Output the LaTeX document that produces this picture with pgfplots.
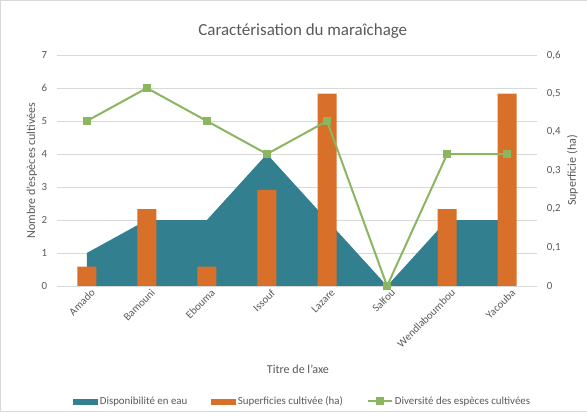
\documentclass[border=0pt]{standalone}
\usepackage{pgfplots}
\pgfplotsset{compat=1.18}
\usepackage{fontspec}
\setmainfont{Carlito}
\definecolor{cteal}{HTML}{317F8F}
\definecolor{corange}{HTML}{D9702A}
\definecolor{cgreen}{HTML}{8CB55F}
\definecolor{cgrid}{HTML}{D9D9D9}
\definecolor{ctext}{HTML}{595959}
\begin{document}
\begin{tikzpicture}[x=1bp,y=1bp]
\draw[cgrid] (0.5,0.5) rectangle (586.5,411.5);
\pgfplotsset{
  base/.style={
    at={(57bp,126bp)}, anchor=south west,
    width=480bp, height=230.7bp, scale only axis,
    xmin=-0.5, xmax=7.5,
    major tick length=0,
    axis line style={draw=none},
    tick label style={font=\fontsize{10.9}{12}\selectfont, text=ctext},
    label style={font=\fontsize{12.1}{14}\selectfont, text=ctext},
    /pgf/number format/assume math mode=true,
    /pgf/number format/use comma,
  }
}
% axis 1: area, left axis
\begin{axis}[base,
  ymin=0, ymax=7, ytick={0,1,...,7},
  ymajorgrids, grid style={cgrid, line width=0.75bp},
  xtick={0,...,7},
  xticklabels={Amado,Bamouni,Ebouma,Issouf,Lazare,Salfou,Wendlaboumbou,Yacouba},
  xticklabel style={rotate=45, anchor=north east, inner sep=1bp, xshift=2bp, yshift=-3bp},
  yticklabel style={xshift=-6bp},
  xlabel={Titre de l'axe},
  xlabel style={at={(axis description cs:0.502,-0.36)}, anchor=center},
  ylabel={Nombre d'espèces cultivées},
  ylabel style={at={(axis description cs:-0.052,0.5)}, anchor=center, rotate=0},
  title={Caractérisation du maraîchage},
  title style={at={(axis description cs:0.512,1.06)}, anchor=base, font=\fontsize{17}{20}\selectfont, text=ctext},
]
\addplot[fill=cteal, draw=none] coordinates {
(0,1) (1,2) (2,2) (3,4) (4,2) (5,0) (6,2) (7,2)
} \closedcycle;
\end{axis}
% axis 2: bars, right axis
\begin{axis}[base,
  ymin=0, ymax=0.6, ytick={0,0.1,...,0.6},
  axis y line*=right, axis x line=none,
  y axis line style={draw=none},
  yticklabel style={/pgf/number format/fixed, xshift=6bp},
  xtick=\empty,
  ylabel={Superficie (ha)},
  ylabel style={at={(axis description cs:1.073,0.5)}, anchor=center, rotate=0},
  ybar, bar width=19bp,
]
\addplot[fill=corange, draw=none] coordinates {
(0,0.05) (1,0.2) (2,0.05) (3,0.25) (4,0.5) (5,0) (6,0.2) (7,0.5)
};
\end{axis}
% axis 3: line, left scale
\begin{axis}[base,
  ymin=0, ymax=7, hide axis, clip=false,
  legend style={at={(0.512,-0.5)}, anchor=center, draw=none, fill=none,
    legend columns=3, font=\fontsize{10.9}{12}\selectfont, text=ctext,
    /tikz/every even column/.append style={column sep=22bp},
    inner sep=0pt},
  legend cell align=left,
]
\addlegendimage{legend image code/.code={\fill[cteal] (0bp,-2.5bp) rectangle (24bp,2.5bp);}}
\addlegendentry{Disponibilité en eau}
\addlegendimage{legend image code/.code={\fill[corange] (0bp,-2.5bp) rectangle (24bp,2.5bp);}}
\addlegendentry{Superficies cultivée (ha)}
\addplot[cgreen, line width=2bp, mark=square*, mark size=2.8bp, mark options={fill=cgreen, draw=cgreen},
  legend image code/.code={\draw[cgreen, line width=2bp] (0bp,0bp) -- (24bp,0bp); \fill[cgreen] (9bp,-3bp) rectangle (15bp,3bp);}] coordinates {
(0,5) (1,6) (2,5) (3,4) (4,5) (5,0) (6,4) (7,4)
};
\addlegendentry{Diversité des espèces cultivées}
\end{axis}
\end{tikzpicture}
\end{document}
